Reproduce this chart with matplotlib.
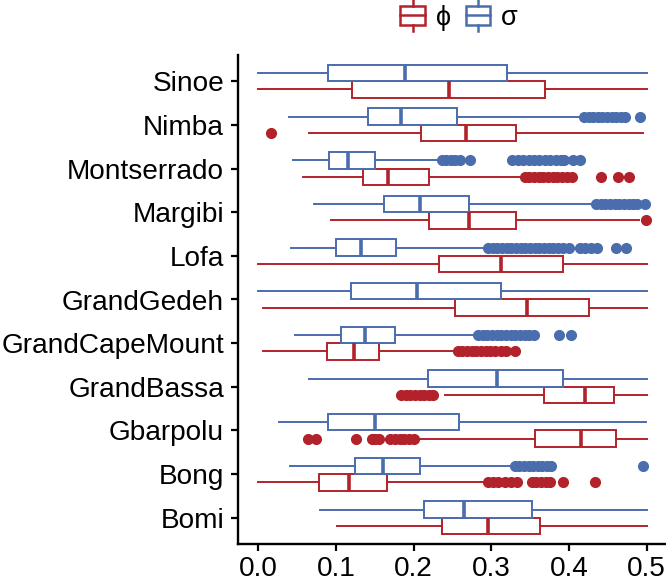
import numpy as np
import matplotlib
matplotlib.use('Agg')
import matplotlib.pyplot as plt
from matplotlib.patches import Rectangle
from matplotlib.lines import Line2D
from matplotlib.legend_handler import HandlerBase

# --------------------------------------------------
# data
# --------------------------------------------------
provinces = ['Bomi', 'Bong', 'Gbarpolu', 'GrandBassa', 'GrandCapeMount',
             'GrandGedeh', 'Lofa', 'Margibi', 'Montserrado', 'Nimba', 'Sinoe']

# phi (red)
phi_lo = [0.101, 0.000, 0.201, 0.240, 0.006, 0.006, 0.000, 0.094, 0.058, 0.066, 0.000]
phi_q1 = [0.236, 0.078, 0.356, 0.368, 0.089, 0.254, 0.233, 0.220, 0.135, 0.209, 0.121]
phi_med = [0.296, 0.117, 0.415, 0.421, 0.123, 0.346, 0.312, 0.272, 0.167, 0.267, 0.245]
phi_q3 = [0.363, 0.166, 0.461, 0.458, 0.156, 0.426, 0.393, 0.332, 0.220, 0.332, 0.369]
phi_hi = [0.500, 0.295, 0.500, 0.500, 0.256, 0.500, 0.500, 0.490, 0.342, 0.496, 0.500]
phi_out = [
    [],
    [0.296, 0.302, 0.309, 0.318, 0.326, 0.333, 0.352, 0.358, 0.364, 0.370, 0.376, 0.392, 0.434],
    [0.064, 0.074, 0.126, 0.147, 0.151, 0.155, 0.170, 0.176, 0.182, 0.188, 0.194, 0.200],
    [0.184, 0.190, 0.196, 0.202, 0.208, 0.214, 0.220, 0.225],
    [0.257, 0.263, 0.269, 0.275, 0.281, 0.287, 0.293, 0.299, 0.305, 0.312, 0.319, 0.331],
    [],
    [],
    [0.499],
    [0.343, 0.349, 0.355, 0.361, 0.367, 0.373, 0.379, 0.385, 0.391, 0.397, 0.404,
     0.441, 0.463, 0.477],
    [0.016],
    [],
]

# sigma (blue)
sig_lo = [0.079, 0.041, 0.027, 0.065, 0.048, 0.000, 0.042, 0.072, 0.045, 0.040, 0.000]
sig_q1 = [0.214, 0.124, 0.090, 0.219, 0.107, 0.119, 0.100, 0.162, 0.091, 0.142, 0.090]
sig_med = [0.265, 0.161, 0.150, 0.307, 0.137, 0.205, 0.132, 0.208, 0.116, 0.184, 0.189]
sig_q3 = [0.353, 0.208, 0.258, 0.393, 0.176, 0.313, 0.178, 0.272, 0.151, 0.256, 0.320]
sig_hi = [0.500, 0.329, 0.499, 0.500, 0.282, 0.500, 0.295, 0.434, 0.235, 0.419, 0.500]
sig_out = [
    [],
    [0.330, 0.336, 0.342, 0.348, 0.354, 0.360, 0.366, 0.372, 0.377, 0.496],
    [],
    [],
    [0.283, 0.289, 0.295, 0.301, 0.307, 0.313, 0.319, 0.325, 0.331, 0.337, 0.343,
     0.349, 0.355, 0.387, 0.403],
    [],
    [0.296, 0.302, 0.308, 0.314, 0.320, 0.326, 0.332, 0.338, 0.344, 0.350, 0.356,
     0.362, 0.368, 0.374, 0.380, 0.386, 0.392, 0.400, 0.414, 0.421, 0.428, 0.436,
     0.461, 0.473],
    [0.435, 0.441, 0.447, 0.453, 0.459, 0.465, 0.471, 0.477, 0.483, 0.488, 0.498],
    [0.236, 0.242, 0.248, 0.254, 0.260, 0.273, 0.327, 0.334, 0.341, 0.348, 0.355,
     0.362, 0.369, 0.376, 0.383, 0.390, 0.394, 0.405, 0.414],
    [0.420, 0.426, 0.431, 0.437, 0.443, 0.449, 0.455, 0.461, 0.467, 0.472, 0.491],
    [],
]

xticks = [0.0, 0.1, 0.2, 0.3, 0.4, 0.5]

RED = '#B2222A'
BLUE = '#4A6DAD'

plt.rcParams['font.family'] = ['Liberation Sans', 'DejaVu Sans']


def make_stats(lo, q1, med, q3, hi, out):
    return [dict(whislo=a, q1=b, med=c, q3=d, whishi=e, fliers=f)
            for a, b, c, d, e, f in zip(lo, q1, med, q3, hi, out)]


def draw(ax, stats, pos, color):
    ax.bxp(stats, positions=pos, widths=0.38, vert=False, showcaps=False,
           patch_artist=True, manage_ticks=False,
           boxprops=dict(facecolor='white', edgecolor=color, linewidth=1.4),
           whiskerprops=dict(color=color, linewidth=1.4),
           medianprops=dict(color=color, linewidth=2.6, solid_capstyle='butt'),
           flierprops=dict(marker='o', markerfacecolor=color, markeredgecolor=color,
                           markersize=7, linestyle='none'))


class BoxHandler(HandlerBase):
    def create_artists(self, legend, orig_handle, xdescent, ydescent,
                       width, height, fontsize, trans):
        c = orig_handle.get_edgecolor()
        x0 = -xdescent
        y0 = -ydescent
        xm = x0 + width / 2
        box = Rectangle((x0, y0), width, height, facecolor='white',
                        edgecolor=c, linewidth=1.8, transform=trans)
        med = Line2D([x0, x0 + width], [y0 + height / 2] * 2, color=c,
                     linewidth=1.8, transform=trans)
        w1 = Line2D([xm, xm], [y0 + height, y0 + height * 1.35], color=c,
                    linewidth=1.8, transform=trans)
        w2 = Line2D([xm, xm], [y0, y0 - height * 0.35], color=c,
                    linewidth=1.8, transform=trans)
        return [box, med, w1, w2]


# --------------------------------------------------
# Plot
# --------------------------------------------------
fig = plt.figure(figsize=(6.66, 5.87), dpi=100)
ax = fig.add_axes([238 / 666, 43 / 587, 428 / 666, 489 / 587])

ypos = np.arange(1, len(provinces) + 1)
draw(ax, make_stats(phi_lo, phi_q1, phi_med, phi_q3, phi_hi, phi_out), ypos - 0.19, RED)
draw(ax, make_stats(sig_lo, sig_q1, sig_med, sig_q3, sig_hi, sig_out), ypos + 0.19, BLUE)

ax.set_xlim(-0.026, 0.525)
ax.set_ylim(0.4, len(provinces) + 0.6)
ax.set_yticks(ypos)
ax.set_yticklabels(provinces)
ax.set_xticks(xticks)
ax.set_xticklabels(['%.1f' % t for t in xticks])
ax.tick_params(labelsize=20.2, width=1.6, length=5, color='black', pad=4)
ax.tick_params(axis='y', pad=5)
for s in ['top', 'right']:
    ax.spines[s].set_visible(False)
for s in ['left', 'bottom']:
    ax.spines[s].set_linewidth(1.7)

h_phi = Rectangle((0, 0), 1, 1, edgecolor=RED, facecolor='white')
h_sig = Rectangle((0, 0), 1, 1, edgecolor=BLUE, facecolor='white')
fig.legend([h_phi, h_sig], ['\u03d5', '\u03c3'], loc='center',
           bbox_to_anchor=(459 / 666, 1 - 18 / 587), ncol=2, frameon=False,
           fontsize=19.5, handler_map={Rectangle: BoxHandler()},
           handlelength=0.9, handleheight=0.65, handletextpad=0.4,
           columnspacing=0.55, borderpad=0, borderaxespad=0)

fig.savefig('out.png', dpi=100)
